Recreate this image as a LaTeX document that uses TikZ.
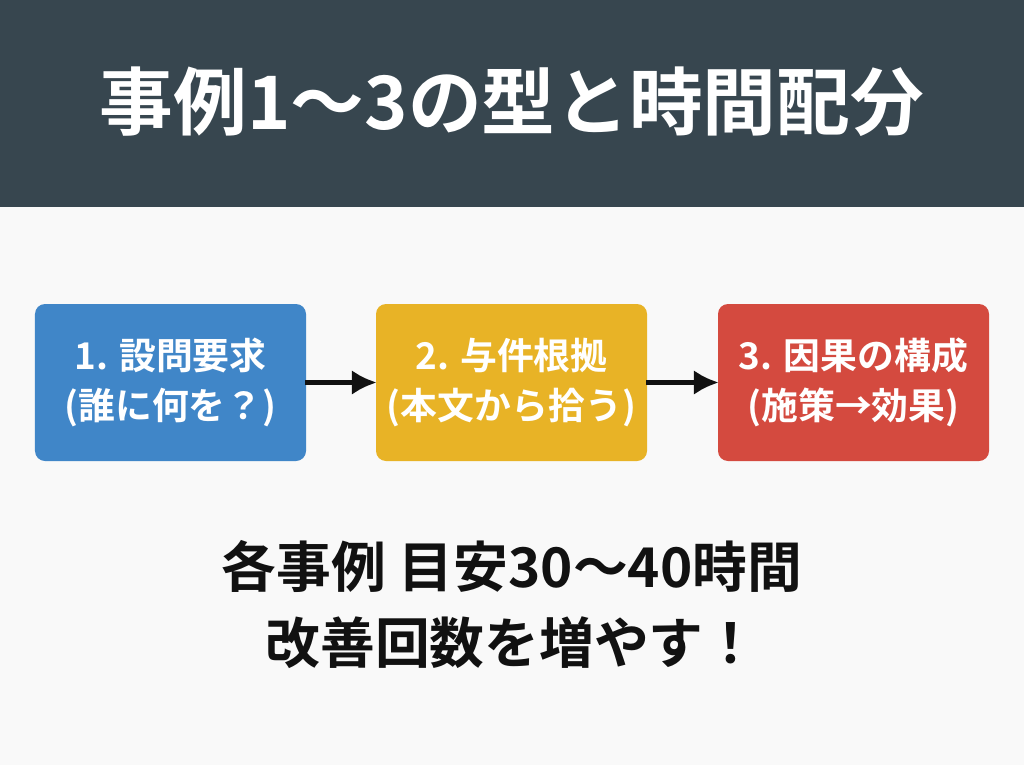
\documentclass[tikz,border=0pt]{standalone}
\usepackage{fontspec}
\setmainfont{Noto Sans CJK JP}[BoldFont={Noto Sans CJK JP Bold}]
\usetikzlibrary{arrows.meta}
\definecolor{barcol}{HTML}{37464F}
\definecolor{bgcol}{HTML}{F9F9F9}
\definecolor{bluecol}{HTML}{4086C8}
\definecolor{yellowcol}{HTML}{E8B326}
\definecolor{redcol}{HTML}{D44A3F}
\definecolor{inkcol}{HTML}{111111}
\begin{document}
\begin{tikzpicture}[x=1bp,y=-1bp,>={Latex[length=25bp,width=25bp]},
  stepbox/.style={draw=none,rounded corners=10bp,minimum width=271bp,minimum height=157bp,
    text=white,align=center,font=\bfseries\fontsize{37}{50}\selectfont,inner sep=0pt},
  link/.style={inkcol,line width=5bp,->,shorten <=-1bp,shorten >=-1bp}]
%%
\fill [bgcol] (0,0) rectangle (1024,765);
\fill [barcol] (0,0) rectangle (1024,207);
\node (title) at (512,102) [text=white,font=\bfseries\fontsize{74}{80}\selectfont] {事例1～3の型と時間配分};
  \node (box_1) at (170.5,382.5) [stepbox,fill=bluecol] {1. 設問要求\\(誰に何を？)};
  \node (box_2) at (511.5,382.5) [stepbox,fill=yellowcol] {2. 与件根拠\\(本文から拾う)};
  \node (box_3) at (853.5,382.5) [stepbox,fill=redcol] {3. 因果の構成\\(施策→効果)};
  \draw [link] (box_1) -- (box_2);
  \draw [link] (box_2) -- (box_3);
  \node (note_1) at (512,566) [text=inkcol,font=\bfseries\fontsize{55}{60}\selectfont] {各事例 目安30～40時間};
  \node (note_2) at (512,643) [text=inkcol,font=\bfseries\fontsize{55}{60}\selectfont] {改善回数を増やす！};
%
\end{tikzpicture}
\end{document}
